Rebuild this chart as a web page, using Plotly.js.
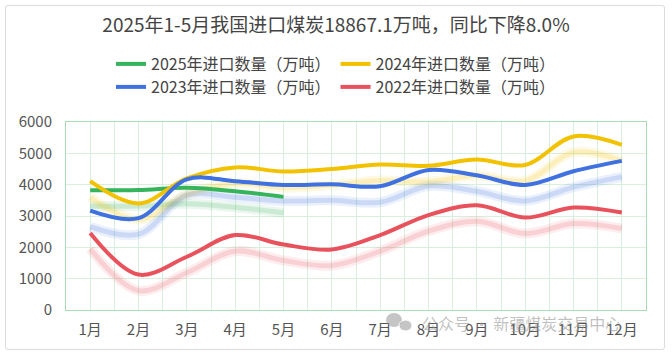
<!DOCTYPE html>
<html>
<head>
<meta charset="utf-8">
<script src="https://cdn.plot.ly/plotly-3.0.1.min.js"></script>
<style>
html,body{margin:0;padding:0;background:#fff;}
#wrap{position:relative;width:672px;height:355px;}
#chart{position:absolute;left:0;top:0;width:672px;height:355px;}
#frame{position:absolute;left:5px;top:5px;width:658px;height:343px;border:1px solid #dcdcdc;border-radius:3px;pointer-events:none;}
</style>
</head>
<body>
<div id="wrap"><div id="chart"></div><div id="frame"></div></div>
<script>
const months = ['1月','2月','3月','4月','5月','6月','7月','8月','9月','10月','11月','12月'];
const v2025 = [3820, 3830, 3900, 3790, 3610];
const v2024 = [4110, 3400, 4200, 4550, 4420, 4500, 4640, 4600, 4800, 4630, 5540, 5270];
const v2023 = [3170, 2930, 4170, 4110, 3990, 4010, 3950, 4470, 4300, 3990, 4430, 4760];
const v2022 = [2460, 1130, 1700, 2390, 2090, 1930, 2390, 3030, 3340, 2950, 3270, 3110];
const names = ['2025年进口数量（万吨）','2024年进口数量（万吨）','2023年进口数量（万吨）','2022年进口数量（万吨）'];
const colors = ['#36b45c','#f2c200','#3f71e0','#e8525c'];
const series = [v2025, v2024, v2023, v2022];
const legends = ['legend','legend','legend2','legend2'];

const yMax = 6000, plotH = 188;
const shadowPx = 16;
const shadowOffset = shadowPx * yMax / plotH;
const xIdx = months.map((m,i)=>i+1);
const FONT = '"Noto Sans CJK SC", "Noto Sans", sans-serif';

const traces = [];
// shadows
series.forEach((s,k)=>{
  const xs = s.map((v,i)=>xIdx[i]);
  const ys = s.map(v=>v-shadowOffset);
  traces.push({x:xs,y:ys,type:'scatter',mode:'lines',line:{color:colors[k],width:10,shape:'spline'},opacity:0.10,showlegend:false,hoverinfo:'skip'});
  traces.push({x:xs,y:ys,type:'scatter',mode:'lines',line:{color:colors[k],width:5,shape:'spline'},opacity:0.18,showlegend:false,hoverinfo:'skip'});
});
series.forEach((s,k)=>{
  traces.push({x:s.map((v,i)=>xIdx[i]),y:s,name:names[k],type:'scatter',mode:'lines',
    line:{color:colors[k],width:4,shape:'spline'},legend:legends[k]});
});

const L=66,R=646,T=122,B=310;
const px = p => (p-L)/(R-L);
const py = p => (B-p)/(B-T);

const legFont = {size:16,color:'#444',family:FONT};
const layout = {
  width:672,height:355,
  margin:{l:L,r:672-R,t:T,b:355-B,pad:0},
  paper_bgcolor:'rgba(0,0,0,0)',plot_bgcolor:'#fff',
  font:{family:FONT,color:'#555'},
  title:{text:'2025年1-5月我国进口煤炭18867.1万吨，同比下降8.0%',x:0.5,xanchor:'center',y:1-25/355,yanchor:'middle',font:{size:19,color:'#444',family:FONT}},
  xaxis:{range:[0.5,12.5],tickmode:'array',tickvals:xIdx,ticktext:months,showgrid:false,zeroline:false,
    showline:true,mirror:true,linecolor:'#a9dbb5',linewidth:1,ticks:'',ticklabelstandoff:6,
    tickfont:{size:15,color:'#555',family:FONT},
    minor:{tickmode:'linear',tick0:0.5,dtick:0.5,showgrid:true,gridcolor:'#d8efde',gridwidth:1,ticks:''}},
  yaxis:{range:[0,6000],dtick:1000,tick0:0,showgrid:true,gridcolor:'#d8efde',gridwidth:1,zeroline:false,
    showline:true,mirror:true,linecolor:'#a9dbb5',linewidth:1,ticks:'',ticklabelstandoff:10,
    tickfont:{size:15,color:'#555',family:FONT}},
  legend:{orientation:'h',x:px(336),xanchor:'center',y:py(64),yanchor:'middle',font:legFont,bgcolor:'rgba(0,0,0,0)',itemclick:false,traceorder:'normal'},
  legend2:{orientation:'h',x:px(336),xanchor:'center',y:py(87),yanchor:'middle',font:legFont,bgcolor:'rgba(0,0,0,0)',itemclick:false,traceorder:'normal'},
  annotations:[{xref:'paper',yref:'paper',x:px(420),y:py(323),xanchor:'left',yanchor:'middle',showarrow:false,
    text:'公众号 · 新疆煤炭交易中心',font:{size:16,color:'rgba(150,150,150,0.6)',family:FONT}}],
  shapes:[
    {type:'circle',xref:'paper',yref:'paper',x0:px(386),x1:px(402),y0:py(327),y1:py(313),fillcolor:'rgba(150,150,150,0.55)',line:{width:0}},
    {type:'circle',xref:'paper',yref:'paper',x0:px(399),x1:px(412),y0:py(331),y1:py(320),fillcolor:'rgba(150,150,150,0.55)',line:{color:'#fff',width:1}}
  ]
};
Plotly.newPlot('chart',traces,layout,{displayModeBar:false,staticPlot:true});
</script>
</body>
</html>
